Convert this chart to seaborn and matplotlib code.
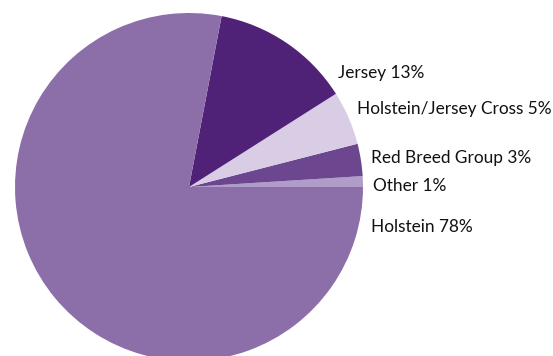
import matplotlib
matplotlib.use("Agg")
import matplotlib.pyplot as plt
import seaborn as sns

categories = ["Other", "Red Breed Group", "Holstein/Jersey Cross", "Jersey", "Holstein"]
values = [1, 3, 5, 13, 78]
colors = ["#B09CC8", "#6C4790", "#D9CDE5", "#4F2177", "#8C6FA9"]
# label anchor positions (pixel coords: left x, centre y from top)
label_pos = [(373, 186), (371, 158), (357, 109), (338, 73), (371, 227)]

sns.set_theme(style="white")
plt.rcParams['font.family'] = ['Lato', 'DejaVu Sans']

W, H = 553, 356
fig = plt.figure(figsize=(W / 100, H / 100), dpi=100)
ax = fig.add_axes([0, 0, 1, 1])

ax.pie(values, colors=colors, startangle=0, counterclock=True,
       center=(189, H - 187), radius=174, frame=True,
       wedgeprops=dict(linewidth=0))
ax.set_xlim(0, W)
ax.set_ylim(0, H)
ax.set_aspect("equal")
ax.axis("off")

for cat, val, (x, y) in zip(categories, values, label_pos):
    ax.text(x, H - y, f"{cat} {val}%", ha="left", va="center",
            fontsize=12.4, color="#111111")

fig.savefig("out.png", dpi=100)
